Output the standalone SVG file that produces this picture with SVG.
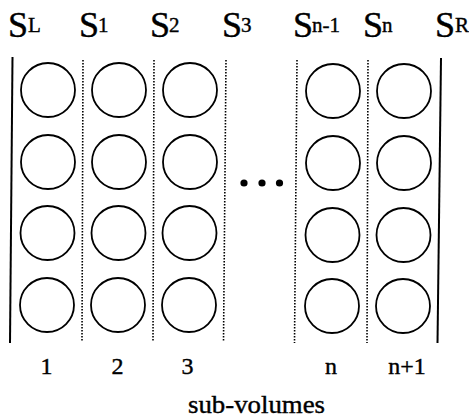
<svg xmlns="http://www.w3.org/2000/svg" width="469" height="419" viewBox="0 0 469 419">
  <style>
    .wall { stroke: #000; stroke-width: 2; fill: none; }
    .part { stroke: #000; stroke-width: 1.6; stroke-dasharray: 1.6 1.4; fill: none; }
    .cell { stroke: #000; stroke-width: 1.8; fill: #fff; }
    text { font-family: "Liberation Serif", "DejaVu Serif", serif; fill: #000; stroke: #000; stroke-width: 0.4; }
    .big { font-size: 36px; }
    .sup { font-size: 21px; }
    .num { font-size: 24px; text-anchor: middle; }
  </style>
  <rect width="469" height="419" fill="#fff"/>

  <!-- surface labels -->
  <g id="surface-labels">
    <text class="big" x="8" y="37">S</text><text class="sup" x="28" y="32">L</text>
    <text class="big" x="79" y="37">S</text><text class="sup" x="98" y="32">1</text>
    <text class="big" x="150" y="37">S</text><text class="sup" x="169" y="32">2</text>
    <text class="big" x="222" y="37">S</text><text class="sup" x="241" y="32">3</text>
    <text class="big" x="293" y="37">S</text><text class="sup" x="312" y="32">n-1</text>
    <text class="big" x="363" y="37">S</text><text class="sup" x="382" y="32">n</text>
    <text class="big" x="435" y="37">S</text><text class="sup" x="455" y="32">R</text>
  </g>

  <!-- boundary walls and partitions -->
  <g id="connectors">
    <line class="wall" x1="12.5" y1="57" x2="10" y2="343"/>
    <line class="part" x1="83" y1="60" x2="82" y2="342"/>
    <line class="part" x1="154" y1="60" x2="153" y2="342"/>
    <line class="part" x1="226" y1="60" x2="223.5" y2="342"/>
    <line class="part" x1="297" y1="60" x2="294.5" y2="343"/>
    <line class="part" x1="368" y1="60" x2="367" y2="343"/>
    <line class="wall" x1="441" y1="58" x2="437.5" y2="343"/>
  </g>

  <!-- sub-volume 1 -->
  <g id="col-1">
    <circle class="cell" cx="48" cy="90" r="27"/>
    <circle class="cell" cx="48" cy="162" r="27"/>
    <circle class="cell" cx="47.5" cy="233" r="27"/>
    <circle class="cell" cx="47" cy="305" r="27"/>
  </g>
  <!-- sub-volume 2 -->
  <g id="col-2">
    <circle class="cell" cx="119" cy="90" r="27"/>
    <circle class="cell" cx="119" cy="162" r="27"/>
    <circle class="cell" cx="118.5" cy="233" r="27"/>
    <circle class="cell" cx="118" cy="305" r="27"/>
  </g>
  <!-- sub-volume 3 -->
  <g id="col-3">
    <circle class="cell" cx="190" cy="90" r="27"/>
    <circle class="cell" cx="190" cy="162" r="27"/>
    <circle class="cell" cx="189.5" cy="233" r="27"/>
    <circle class="cell" cx="189" cy="305" r="27"/>
  </g>
  <!-- sub-volume n -->
  <g id="col-n">
    <circle class="cell" cx="333" cy="91" r="27"/>
    <circle class="cell" cx="333" cy="163" r="27"/>
    <circle class="cell" cx="332.5" cy="235" r="27"/>
    <circle class="cell" cx="332" cy="306" r="27"/>
  </g>
  <!-- sub-volume n+1 -->
  <g id="col-n1">
    <circle class="cell" cx="404" cy="91" r="27"/>
    <circle class="cell" cx="404" cy="163" r="27"/>
    <circle class="cell" cx="403.5" cy="235" r="27"/>
    <circle class="cell" cx="403" cy="306" r="27"/>
  </g>

  <!-- ellipsis between column groups -->
  <g id="ellipsis" fill="#000">
    <circle cx="244" cy="183" r="3.6"/>
    <circle cx="262" cy="183" r="3.6"/>
    <circle cx="279.5" cy="183" r="3.6"/>
  </g>

  <!-- sub-volume indices -->
  <g id="indices">
    <text class="num" x="46.5" y="374">1</text>
    <text class="num" x="117.5" y="374">2</text>
    <text class="num" x="187.5" y="374">3</text>
    <text class="num" x="331" y="374">n</text>
    <text class="num" x="407" y="374">n+1</text>
  </g>

  <g id="caption">
    <text x="188" y="413" font-size="25" textLength="137" lengthAdjust="spacingAndGlyphs">sub-volumes</text>
  </g>
</svg>
